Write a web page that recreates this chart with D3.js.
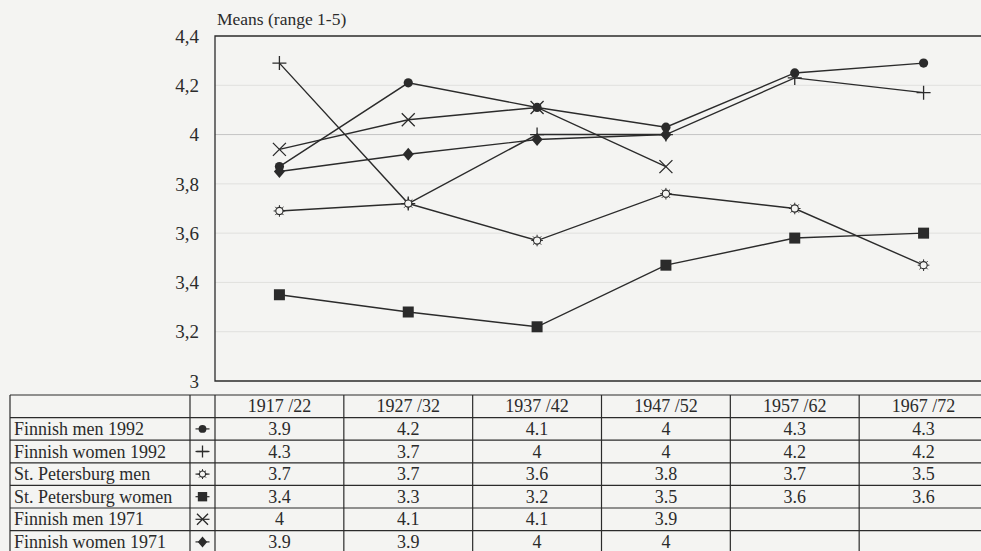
<!DOCTYPE html>
<html>
<head>
<meta charset="utf-8">
<script src="https://cdn.jsdelivr.net/npm/d3@7"></script>
<style>
  body { margin: 0; background: #f4f4f2; }
  svg { display: block; }
</style>
</head>
<body>
<div class="chart"></div>
<script>
const categories = ["1917 /22", "1927 /32", "1937 /42", "1947 /52", "1957 /62", "1967 /72"];
const seriesNames = ["Finnish men 1992", "Finnish women 1992", "St. Petersburg men",
                     "St. Petersburg women", "Finnish men 1971", "Finnish women 1971"];
const seriesSymbols = ["circle", "plus", "sun", "square", "cross", "diamond"];

// plotted means
const finMen1992   = [3.87, 4.21, 4.11, 4.03, 4.25, 4.29];
const finWomen1992 = [4.29, 3.72, 4.00, 4.00, 4.23, 4.17];
const spbMen       = [3.69, 3.72, 3.57, 3.76, 3.70, 3.47];
const spbWomen     = [3.35, 3.28, 3.22, 3.47, 3.58, 3.60];
const finMen1971   = [3.94, 4.06, 4.11, 3.87];
const finWomen1971 = [3.85, 3.92, 3.98, 4.00];

// values printed in the table
const tableValues = [
  ["3.9", "4.2", "4.1", "4", "4.3", "4.3"],
  ["4.3", "3.7", "4", "4", "4.2", "4.2"],
  ["3.7", "3.7", "3.6", "3.8", "3.7", "3.5"],
  ["3.4", "3.3", "3.2", "3.5", "3.6", "3.6"],
  ["4", "4.1", "4.1", "3.9", "", ""],
  ["3.9", "3.9", "4", "4", "", ""]
];

const yTicks = [3, 3.2, 3.4, 3.6, 3.8, 4, 4.2, 4.4];

const series = [finMen1992, finWomen1992, spbMen, spbWomen, finMen1971, finWomen1971];

const width = 981, height = 551;
const ink = "#2b2b2b";
const serif = "'Liberation Serif', 'Times New Roman', serif";

const svg = d3.select('.chart')
    .append('svg')
    .attr('width', width)
    .attr('height', height);

const x = d3.scaleBand().domain(categories).range([215, 988]).padding(0);
const y = d3.scaleLinear().domain([3, 4.4]).range([381, 36]);
const cx = d => x(d) + x.bandwidth() / 2;

// gridlines
svg.append('g')
    .selectAll('line')
    .data(yTicks.filter(t => t > 3 && t < 4.4))
    .enter()
    .append('line')
        .attr('x1', 215).attr('x2', width)
        .attr('y1', d => y(d)).attr('y2', d => y(d))
        .attr('stroke', d => d === 4 ? '#c4c4c4' : '#e0e0de')
        .attr('stroke-width', 1);

// frame
svg.append('path')
    .attr('d', `M${width},${y(4.4)}H215V${y(3)}H${width}`)
    .attr('fill', 'none')
    .attr('stroke', ink)
    .attr('stroke-width', 1.3);

// y tick labels
svg.append('g')
    .selectAll('text')
    .data(yTicks)
    .enter()
    .append('text')
        .attr('x', 199)
        .attr('y', d => y(d))
        .attr('dy', '0.35em')
        .attr('text-anchor', 'end')
        .attr('font-size', '19px')
        .style('font-family', serif)
        .attr('fill', ink)
        .text(d => d3.format('.1~f')(d).replace('.', ','));

svg.append('text')
    .attr('x', 217)
    .attr('y', 25)
    .attr('font-size', '17.5px')
    .style('font-family', serif)
    .attr('fill', ink)
    .text('Means (range 1-5)');

function drawSymbol(g, type, s) {
  s = s || 1;
  if (type === 'circle') {
    g.append('circle').attr('r', 4.6 * s).attr('fill', ink);
  } else if (type === 'plus') {
    g.append('path').attr('d', `M${-7*s},0H${7*s}M0,${-7*s}V${7*s}`)
      .attr('stroke', ink).attr('stroke-width', 1.3);
  } else if (type === 'cross') {
    g.append('path').attr('d', `M${-6.5*s},${-6.5*s}L${6.5*s},${6.5*s}M${-6.5*s},${6.5*s}L${6.5*s},${-6.5*s}`)
      .attr('stroke', ink).attr('stroke-width', 1.3);
  } else if (type === 'square') {
    g.append('rect').attr('x', -5.5 * s).attr('y', -5.5 * s)
      .attr('width', 11 * s).attr('height', 11 * s).attr('fill', ink);
  } else if (type === 'diamond') {
    g.append('path').attr('d', `M0,${-6.5*s}L${5.5*s},0L0,${6.5*s}L${-5.5*s},0Z`).attr('fill', ink);
  } else if (type === 'sun') {
    g.append('circle').attr('r', 3.6 * s).attr('fill', '#f4f4f2')
      .attr('stroke', ink).attr('stroke-width', 1.1);
    const rays = d3.range(8).map(i => i * Math.PI / 4);
    g.append('path')
      .attr('d', rays.map(a => `M${Math.cos(a)*3.6*s},${Math.sin(a)*3.6*s}L${Math.cos(a)*5.8*s},${Math.sin(a)*5.8*s}`).join(''))
      .attr('stroke', ink).attr('stroke-width', 1);
  }
}

const line = d3.line()
    .x((d, i) => cx(categories[i]))
    .y(d => y(d));

const lines = svg.append('g');
series.forEach(vals => {
  lines.append('path')
      .attr('d', line(vals))
      .attr('fill', 'none')
      .attr('stroke', ink)
      .attr('stroke-width', 1.4);
});
series.forEach((vals, k) => {
  vals.forEach((v, i) => {
    const g = lines.append('g')
        .attr('transform', `translate(${cx(categories[i])},${y(v)})`);
    drawSymbol(g, seriesSymbols[k]);
  });
});

// data table
const rowH = 22.6, tableTop = 395;
const table = svg.append('g');
const colEdges = [10, 190, 215].concat(categories.map(c => x(c) + x.bandwidth()));
const nRows = seriesNames.length + 1;

d3.range(nRows + 1).forEach(r => {
  table.append('line')
      .attr('x1', 10).attr('x2', width)
      .attr('y1', tableTop + r * rowH).attr('y2', tableTop + r * rowH)
      .attr('stroke', ink).attr('stroke-width', 1.2);
});
colEdges.forEach(xe => {
  table.append('line')
      .attr('x1', xe).attr('x2', xe)
      .attr('y1', tableTop).attr('y2', tableTop + nRows * rowH)
      .attr('stroke', ink).attr('stroke-width', 1.2);
});

table.selectAll('text.head')
    .data(categories)
    .enter()
    .append('text')
        .attr('x', d => cx(d))
        .attr('y', tableTop + rowH / 2 + 6)
        .attr('text-anchor', 'middle')
        .attr('font-size', '18px')
        .style('font-family', serif)
        .attr('fill', ink)
        .text(d => d);

seriesNames.forEach((name, k) => {
  const ry = tableTop + (k + 1) * rowH + rowH / 2;
  table.append('text')
      .attr('x', 14).attr('y', ry + 6)
      .attr('font-size', '18px')
      .style('font-family', serif)
      .attr('fill', ink)
      .text(name);
  const g = table.append('g').attr('transform', `translate(202.5,${ry})`);
  g.append('line').attr('x1', -7).attr('x2', 7).attr('stroke', ink).attr('stroke-width', 1.2);
  drawSymbol(g, seriesSymbols[k], 0.85);
  tableValues[k].forEach((v, i) => {
    table.append('text')
        .attr('x', cx(categories[i]))
        .attr('y', ry + 6)
        .attr('text-anchor', 'middle')
        .attr('font-size', '18px')
        .style('font-family', serif)
        .attr('fill', ink)
        .text(v);
  });
});
</script>
</body>
</html>
